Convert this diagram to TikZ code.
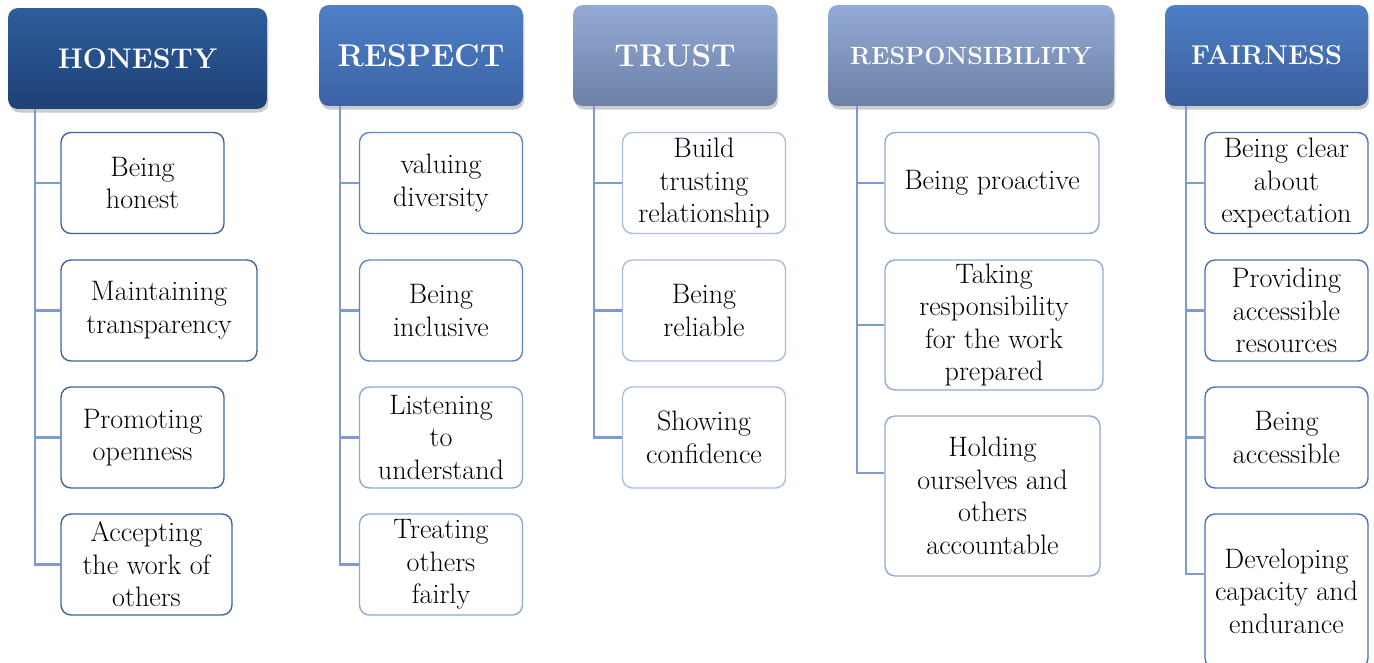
\documentclass[tikz,border=0pt]{standalone}
\usetikzlibrary{shadows}

\definecolor{hnTop}{HTML}{2D5D9B}
\definecolor{hnBot}{HTML}{1F4176}
\definecolor{rsTop}{HTML}{4E7FC7}
\definecolor{rsBot}{HTML}{3B63A5}
\definecolor{ltTop}{HTML}{93AAD6}
\definecolor{ltBot}{HTML}{6D81A6}
\definecolor{frTop}{HTML}{4E7FC7}
\definecolor{frBot}{HTML}{3A5E9C}
\definecolor{hnLine}{HTML}{3E64A0}
\definecolor{rsLine}{HTML}{5C86C6}
\definecolor{rsLight}{HTML}{8EA8D6}
\definecolor{trLine}{HTML}{A9BDE2}
\definecolor{rpLine}{HTML}{8FA9D8}
\definecolor{frLine}{HTML}{4A74B6}
\definecolor{linkBlue}{HTML}{7D9BD0}

\begin{document}
\begin{tikzpicture}[x=0.02cm, y=-0.02cm]
	\tikzstyle{every node}=[align=center, inner sep=1pt]
	\tikzstyle{head}=[rounded corners=0.2cm, text=white, minimum height=2.02cm,
		drop shadow={opacity=0.4, shadow xshift=0.8pt, shadow yshift=-2pt}]
	\tikzstyle{item}=[draw, fill=white, rounded corners=0.2cm, line width=0.8pt,
		minimum width=3.26cm, minimum height=2.02cm, font=\fontsize{16}{18.5}\selectfont]
	\tikzstyle{link}=[draw=linkBlue, line width=1.3pt]

	\useasboundingbox (0,0) rectangle (1374,663);

	% headers
	\node[head, top color=hnTop, bottom color=hnBot, minimum width=5.18cm,
		font=\bfseries\fontsize{16.2}{18}\selectfont] (H) at (137.5,58.5) {HONESTY};
	\node[head, top color=rsTop, bottom color=rsBot, minimum width=4.08cm,
		font=\bfseries\fontsize{17.9}{20}\selectfont] (R) at (421,55.5) {RESPECT};
	\node[head, top color=ltTop, bottom color=ltBot, minimum width=4.08cm,
		font=\bfseries\fontsize{17.9}{20}\selectfont] (T) at (675,55.5) {TRUST};
	\node[head, top color=ltTop, bottom color=ltBot, minimum width=5.72cm,
		font=\bfseries\fontsize{14.2}{16}\selectfont] (P) at (971,55.5) {RESPONSIBILITY};
	\node[head, top color=frTop, bottom color=frBot, minimum width=4.06cm,
		font=\bfseries\fontsize{15.5}{18}\selectfont] (F) at (1266.5,55.5) {FAIRNESS};

	\coordinate (Hs) at (35,109);
	\coordinate (Rs) at (340,106);
	\coordinate (Ts) at (594,106);
	\coordinate (Ps) at (857,106);
	\coordinate (Fs) at (1186,106);

	% honesty
	\node[item, draw=hnLine] (H1) at (142.5,183) {Being\\honest};
	\node[item, draw=hnLine, minimum width=3.92cm] (H2) at (159,310.5) {Maintaining\\transparency};
	\node[item, draw=hnLine] (H3) at (142.5,437.5) {Promoting\\openness};
	\node[item, draw=hnLine, minimum width=3.42cm] (H4) at (146.5,564.5) {Accepting\\the work of\\others};

	% respect
	\node[item, draw=rsLine] (R1) at (441,183) {valuing\\diversity};
	\node[item, draw=rsLine] (R2) at (441,310.5) {Being\\inclusive};
	\node[item, draw=rsLight] (R3) at (441,437.5) {Listening\\to\\understand};
	\node[item, draw=rsLight] (R4) at (441,564.5) {Treating\\others\\fairly};

	% trust
	\node[item, draw=trLine] (T1) at (704,183) {Build\\trusting\\relationship};
	\node[item, draw=trLine] (T2) at (704,310.5) {Being\\reliable};
	\node[item, draw=trLine] (T3) at (704,437.5) {Showing\\confidence};

	% responsibility
	\node[item, draw=rpLine, minimum width=4.28cm] (P1) at (992,183) {Being proactive};
	\node[item, draw=rpLine, minimum width=4.36cm, minimum height=2.6cm] (P2) at (994,325)
		{Taking\\responsibility\\for the work\\prepared};
	\node[item, draw=rpLine, minimum width=4.3cm, minimum height=3.2cm] (P3) at (992.5,496)
		{Holding\\ourselves and\\others\\accountable};

	% fairness
	\node[item, draw=frLine] (F1) at (1286.5,183) {Being clear\\about\\expectation};
	\node[item, draw=frLine] (F2) at (1286.5,310.5) {Providing\\accessible\\resources};
	\node[item, draw=frLine] (F3) at (1286.5,437.5) {Being\\accessible};
	\node[item, draw=frLine, minimum height=3.08cm] (F4) at (1286.5,591)
		{Developing\\capacity and\\endurance};

	\draw[link] (Hs) |- (H4.west);
	\draw[link] (Hs |- H1.west) -- (H1.west);
	\draw[link] (Hs |- H2.west) -- (H2.west);
	\draw[link] (Hs |- H3.west) -- (H3.west);

	\draw[link] (Rs) |- (R4.west);
	\draw[link] (Rs |- R1.west) -- (R1.west);
	\draw[link] (Rs |- R2.west) -- (R2.west);
	\draw[link] (Rs |- R3.west) -- (R3.west);

	\draw[link] (Ts) |- (T3.west);
	\draw[link] (Ts |- T1.west) -- (T1.west);
	\draw[link] (Ts |- T2.west) -- (T2.west);

	\draw[link] (Ps) |- ([yshift=0.46cm]P3.west);
	\draw[link] (Ps |- P1.west) -- (P1.west);
	\draw[link] (Ps |- P2.west) -- (P2.west);

	\draw[link] (Fs) |- ([yshift=0.34cm]F4.west);
	\draw[link] (Fs |- F1.west) -- (F1.west);
	\draw[link] (Fs |- F2.west) -- (F2.west);
	\draw[link] (Fs |- F3.west) -- (F3.west);
\end{tikzpicture}
\end{document}
